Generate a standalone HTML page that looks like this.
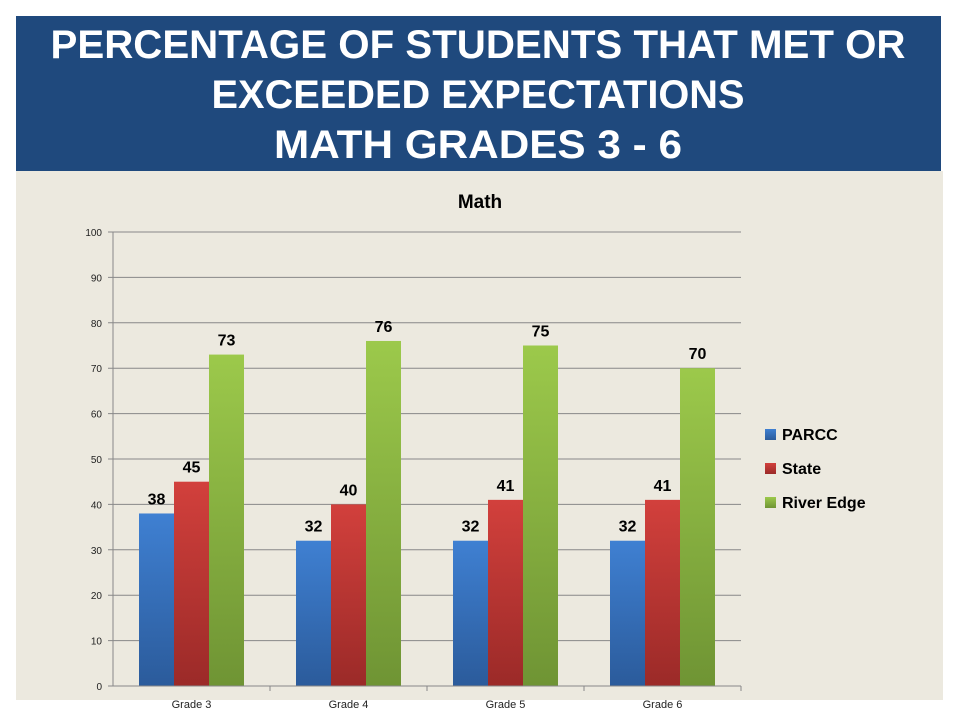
<!DOCTYPE html>
<html><head><meta charset="utf-8"><style>
body{margin:0;background:#fff;width:960px;height:720px;overflow:hidden;font-family:"Liberation Sans",sans-serif}
</style></head><body>
<svg width="960" height="720" xmlns="http://www.w3.org/2000/svg">
<defs>
<linearGradient id="gb" x1="0" y1="0" x2="0" y2="1"><stop offset="0" stop-color="#3f80d2"/><stop offset="1" stop-color="#2b5b9b"/></linearGradient>
<linearGradient id="gr" x1="0" y1="0" x2="0" y2="1"><stop offset="0" stop-color="#d2403c"/><stop offset="1" stop-color="#9b2a28"/></linearGradient>
<linearGradient id="gg" x1="0" y1="0" x2="0" y2="1"><stop offset="0" stop-color="#9cc94b"/><stop offset="1" stop-color="#6f9434"/></linearGradient>
</defs>
<rect x="16" y="16" width="925" height="155" fill="#1f497d"/>
<g fill="#fff" font-size="40" font-weight="bold" text-anchor="middle">
<text x="478" y="58" textLength="855" lengthAdjust="spacingAndGlyphs">PERCENTAGE OF STUDENTS THAT MET OR</text>
<text x="478" y="108" textLength="533" lengthAdjust="spacingAndGlyphs">EXCEEDED EXPECTATIONS</text>
<text x="478" y="158" textLength="408" lengthAdjust="spacingAndGlyphs">MATH GRADES 3 - 6</text>
</g>
<rect x="16" y="171" width="927" height="529" fill="#ece9df"/>
<text x="480" y="208" font-size="19" font-weight="bold" text-anchor="middle" fill="#000">Math</text>
<g id="chart"></g>
<g>
<rect x="765" y="429" width="11" height="11" fill="url(#gb)"/>
<text x="782" y="440" font-size="16" font-weight="bold">PARCC</text>
<rect x="765" y="463" width="11" height="11" fill="url(#gr)"/>
<text x="782" y="474" font-size="16" font-weight="bold">State</text>
<rect x="765" y="497" width="11" height="11" fill="url(#gg)"/>
<text x="782" y="508" font-size="16" font-weight="bold">River Edge</text>
</g>
</svg>
<script>
const categories=["Grade 3","Grade 4","Grade 5","Grade 6"];
const parcc=[38,32,32,32];
const state=[45,40,41,41];
const riverEdge=[73,76,75,70];
const yTicks=[0,10,20,30,40,50,60,70,80,90,100];
const NS="http://www.w3.org/2000/svg";
const g=document.getElementById('chart');
const X0=113,X1=741,Y0=686,Y1=232,YMAX=100;
const y=v=>Y0-(v/YMAX)*(Y0-Y1);
const cw=(X1-X0)/categories.length;
const bw=35;
function mk(t,a){const e=document.createElementNS(NS,t);for(const k in a)e.setAttribute(k,a[k]);g.appendChild(e);return e;}
yTicks.forEach(t=>{
  const l=mk('line',{x1:X0-5,x2:X1,y1:y(t),y2:y(t),stroke:'#888','stroke-width':1});
  
  
  const tx=mk('text',{x:X0-11,y:y(t)+4,'font-size':10,'text-anchor':'end',fill:'#222'});
  tx.textContent=t;
  
  
});
const ax=mk('line',{x1:X0,x2:X0,y1:Y1,y2:Y0,stroke:'#888'});


const series=[[parcc,'url(#gb)','parcc'],[state,'url(#gr)','state'],[riverEdge,'url(#gg)','river-edge']];
categories.forEach((c,i)=>{
  const gx=X0+i*cw;
  const tk=mk('line',{x1:gx+cw,x2:gx+cw,y1:Y0,y2:Y0+5,stroke:'#888'});
  
  
  const start=gx+(cw-3*bw)/2;
  series.forEach((s,j)=>{
    const v=s[0][i];const bx=start+j*bw;
    const r=mk('rect',{x:bx,y:y(v),width:bw,height:Y0-y(v),fill:s[1]});
    
    
    const lb=mk('text',{x:bx+bw/2,y:y(v)-9,'font-size':16,'font-weight':'bold','text-anchor':'middle',fill:'#000'});
    lb.textContent=v;
    
    
  });
  const cl=mk('text',{x:gx+cw/2,y:708,'font-size':11,'text-anchor':'middle',fill:'#222'});
  cl.textContent=c;
  
  
});
const xa=mk('line',{x1:X0,x2:X1,y1:Y0,y2:Y0,stroke:'#888'});


</script>
</body></html>
